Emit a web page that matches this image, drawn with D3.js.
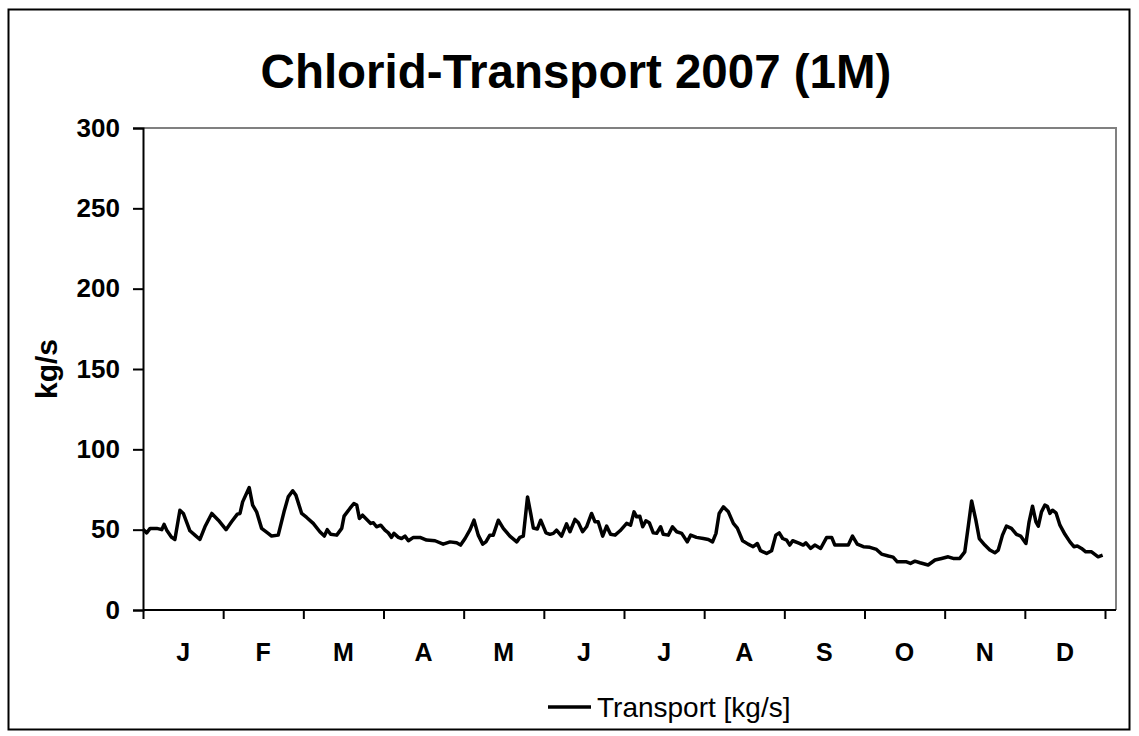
<!DOCTYPE html>
<html>
<head>
	<script src="https://d3js.org/d3.v7.min.js"></script>
	<meta charset="UTF-8">
	<style>
		body{ margin:0; background:#fff; }
		text{ font-family: Arial, "Liberation Sans", sans-serif; }
	</style>
</head>
<body>
	<script type="text/javascript">
		// day of year and transport values in kg/s
		var days = [0,1.4,2.7,5.2,7.1,8.0,9.0,10.9,12.1,14.0,15.3,17.8,19.7,21.6,23.5,26.1,28.6,31.5,33.6,35.8,36.8,37.8,40.3,41.6,43.1,45.0,47.5,48.8,51.3,53.5,55.1,56.8,58.0,60.2,62.1,64.6,67.1,68.8,69.9,71.2,73.5,75.4,76.3,78.5,80.0,81.1,82.1,83.3,84.9,86.4,87.4,88.6,90.2,91.8,93.1,94.3,95.2,96.9,98.1,99.4,100.7,102.6,105.1,107.6,110.8,113.9,116.5,119.0,120.5,122.2,124.1,
			125.6,127.2,128.9,130.1,131.6,132.9,134.8,136.7,139.2,141.8,143.0,144.3,145.9,147.1,148.1,149.6,150.9,152.9,154.4,155.7,156.9,158.8,160.7,162.0,163.9,165.2,166.8,168.3,170.2,171.5,172.7,174.4,175.9,177.4,179.1,181.0,183.5,185.0,186.3,187.3,188.5,189.6,190.8,192.1,193.6,194.9,196.4,197.4,199.3,200.9,202.5,204.4,206.5,207.8,210.0,212.6,214.5,216.1,217.4,218.6,220.2,222.1,224.0,225.5,227.5,229.6,231.5,233.1,234.3,236.6,238.5,240.1,241.4,242.7,244.2,245.4,
			246.5,248.6,250.5,251.5,253.3,254.9,257.1,259.4,261.3,262.5,267.6,269.2,271.0,273.3,275.8,278.3,280.2,282.8,284.6,286.2,289.7,291.2,292.9,294.8,297.9,300.5,303.0,305.5,307.4,309.9,311.8,313.1,314.4,316.0,317.3,319.4,321.3,323.2,324.5,326.1,327.6,329.5,331.4,333.0,335.0,336.2,337.5,338.8,339.7,340.9,342.2,343.1,344.1,345.1,346.4,347.9,349.8,351.7,353.2,354.5,356.1,357.7,359.9,362.4,364.1];
		var transport = [50.2,48,50.8,50.8,50,53.3,49.7,45.2,43.9,62.1,60.1,49.3,46.6,43.9,51.8,60.1,55.9,50,54.9,59.7,60.1,67.3,76.2,65.3,61.1,50.8,47.7,46,46.6,61.1,70.4,74.2,71.5,60.1,57.6,53.9,48.7,46,50,47.1,46.6,50.8,58.4,63.2,66.3,65.3,57,59,56.4,53.9,54.3,51.8,52.8,49.7,48,45.2,47.7,45.2,44.5,46,43.1,45.2,45.2,43.5,43.1,41,42.4,41.8,40.4,44.5,50,
			55.9,46.6,41,42.4,46.6,46.6,55.9,50.8,46,42.4,45.2,46,70.4,60.1,51,50.4,55.9,48,47.1,47.7,49.7,46,53.6,48.7,56.4,54.3,48.7,51.8,60.1,54.9,54.9,46,52.2,47.1,46.6,49.3,53.9,52.8,61.1,58,58.4,51.8,55.5,54.3,48,47.7,51.8,47.1,46.6,51.8,48.7,47.7,42.4,46.6,45.2,44.5,43.9,42.4,47.7,60.1,64.2,61.1,53.9,51,43.1,41,39.4,41.4,36.9,35.2,36.9,46.6,48,44.5,43.5,40.4,
			43.1,41.8,40.4,41.8,38.3,40.4,38.3,45.2,45.2,40.4,40.4,46,41,39.4,39,37.7,34.8,33.6,32.9,30,30,29,30.4,29.4,28,31.1,32.1,33.1,32.1,32.1,36.2,51.8,67.9,55.9,44.5,40.4,37.3,35.6,37.3,46.6,52.2,50.8,47.1,46,41.4,54.9,64.6,54.9,52.2,61.1,65.3,64.6,60.1,62.1,60.5,52.8,47.1,42.4,39.4,39.8,38.3,36.2,36.2,33.1,34.1];
		var months = ["J","F","M","A","M","J","J","A","S","O","N","D"];
		var yTicks = [0,50,100,150,200,250,300];
		var title = "Chlorid-Transport 2007 (1M)";
		var seriesName = "Transport [kg/s]";

		var data = days.map(function(d, i){ return {day: d, v: transport[i]}; });

		var w = 1139, h = 736;
		var pLeft = 143, pRight = 1116, pTop = 128, pBottom = 610;

		var svg = d3.select("body").append("svg").attr("width", w).attr("height", h);

		// outer frame
		svg.append("rect").attr("x", 8.5).attr("y", 9.5).attr("width", 1121).attr("height", 720)
			.attr("fill", "#fff").attr("stroke", "#000").attr("stroke-width", 2);

		var monthLen = 365 / 12;
		var xScale = d3.scaleLinear().domain([0, (pRight - pLeft) / (962 / 365)]).range([pLeft, pRight]);
		var yScale = d3.scaleLinear().domain([0, 300]).range([pBottom, pTop]);

		// plot frame (gray top/right)
		svg.append("path").attr("d", "M" + pLeft + "," + pTop + "H" + pRight + "V" + pBottom)
			.attr("fill", "none").attr("stroke", "#808080").attr("stroke-width", 2);

		// y axis
		var yAxis = d3.axisLeft(yScale).tickValues(yTicks).tickSize(10).tickPadding(13);
		var gy = svg.append("g").attr("transform", "translate(" + pLeft + ",0)").call(yAxis);
		gy.select(".domain").attr("stroke-width", 2);
		gy.selectAll(".tick line").attr("stroke-width", 2);
		gy.selectAll("text").style("font-size", "26px").style("font-weight", "bold").attr("fill", "#000");

		// x axis : month ticks, labels between
		var tickPos = d3.range(13).map(function(i){ return i * monthLen; });
		var xAxis = d3.axisBottom(xScale).tickValues(tickPos).tickSize(9).tickFormat("");
		var gx = svg.append("g").attr("transform", "translate(0," + pBottom + ")").call(xAxis);
		gx.select(".domain").attr("d", "M" + pLeft + ",0H" + pRight).attr("stroke-width", 2);
		gx.selectAll(".tick line").attr("stroke-width", 2);

		svg.append("g").selectAll("text").data(months).enter().append("text")
			.attr("x", function(d, i){ return xScale((i + 0.5) * monthLen); })
			.attr("y", 661).attr("text-anchor", "middle")
			.style("font-size", "25px").style("font-weight", "bold").text(function(d){ return d; });

		// line
		var line = d3.line().x(function(d){ return xScale(d.day); }).y(function(d){ return yScale(d.v); });
		svg.append("path").datum(data).attr("d", line).attr("fill", "none")
			.attr("stroke", "#000").attr("stroke-width", 3.5).attr("stroke-linejoin", "round");

		// title
		svg.append("text").attr("x", 576).attr("y", 88).attr("text-anchor", "middle")
			.style("font-size", "47.5px").style("font-weight", "bold").text(title);

		// y label
		svg.append("text").attr("transform", "translate(57,369) rotate(-90)").attr("text-anchor", "middle")
			.style("font-size", "30px").style("font-weight", "bold").text("kg/s");

		// legend
		svg.append("line").attr("x1", 548).attr("x2", 591).attr("y1", 707).attr("y2", 707)
			.attr("stroke", "#000").attr("stroke-width", 3.5);
		svg.append("text").attr("x", 597).attr("y", 717).style("font-size", "28px").text(seriesName);
	</script>
</body>
</html>
